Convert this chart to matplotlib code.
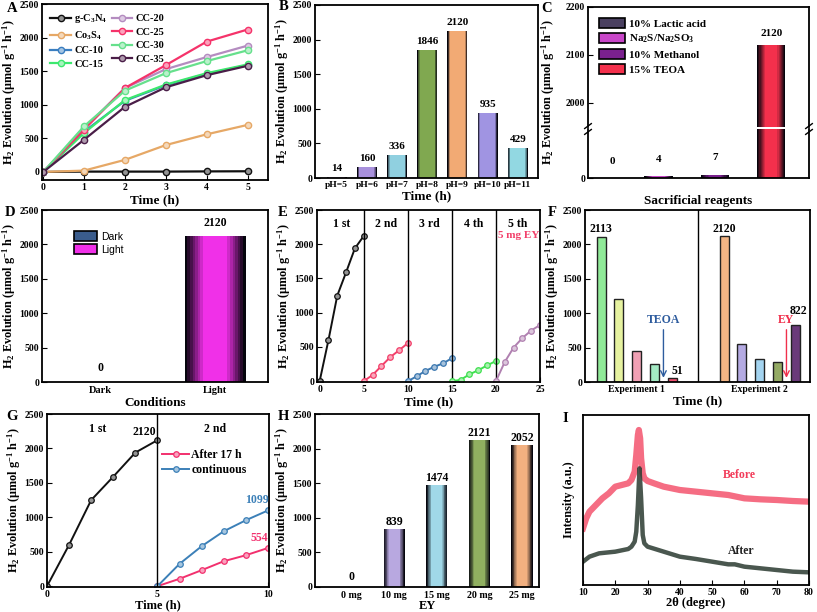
import numpy as np
import matplotlib
matplotlib.use("Agg")
import matplotlib.pyplot as plt
from matplotlib.colors import to_rgb
from matplotlib.patches import Patch

plt.rcParams['font.family'] = 'Liberation Serif'
plt.rcParams['font.weight'] = 'bold'
plt.rcParams['axes.labelweight'] = 'bold'
plt.rcParams['mathtext.fontset'] = 'custom'
plt.rcParams['mathtext.rm'] = 'Liberation Serif:bold'
plt.rcParams['mathtext.it'] = 'Liberation Serif:bold'
plt.rcParams['mathtext.bf'] = 'Liberation Serif:bold'
plt.rcParams['xtick.direction'] = 'in'
plt.rcParams['ytick.direction'] = 'in'
plt.rcParams['xtick.labelsize'] = 7
plt.rcParams['ytick.labelsize'] = 7
plt.rcParams['xtick.major.pad'] = 2.5
plt.rcParams['ytick.major.pad'] = 2
plt.rcParams['axes.linewidth'] = 1.3

# ---- data ----
# A
time_a = [0, 1, 2, 3, 4, 5]
a_labels = ['g-C$_3$N$_4$', 'Co$_3$S$_4$', 'CC-10', 'CC-15', 'CC-20', 'CC-25', 'CC-30', 'CC-35']
a_gcn = [0, 5, 5, 5, 8, 10]
a_co3s4 = [0, 20, 180, 400, 560, 700]
a_cc10 = [0, 600, 1060, 1290, 1460, 1590]
a_cc15 = [0, 580, 1070, 1300, 1470, 1600]
a_cc20 = [0, 650, 1250, 1530, 1710, 1880]
a_cc25 = [0, 630, 1250, 1590, 1940, 2120]
a_cc30 = [0, 680, 1210, 1470, 1650, 1810]
a_cc35 = [0, 480, 970, 1260, 1440, 1580]
a_colors = ['#111111', '#E6A866', '#3A7EC0', '#3CE86E', '#B48CC0', '#F5336A', '#66E08C', '#4A1E48']

# B
ph_labels = ['pH=5', 'pH=6', 'pH=7', 'pH=8', 'pH=9', 'pH=10', 'pH=11']
ph_values = [14, 160, 336, 1846, 2120, 935, 429]
ph_colors = ['#D0B0E0', '#A890DC', '#90D0E0', '#80A850', '#F2AA74', '#A094E2', '#92D8E2']

# C
sac_labels = ['10% Lactic acid', 'Na$_2$S/Na$_2$SO$_3$', '10% Methanol', '15% TEOA']
sac_values = [0, 4, 7, 2120]
sac_colors = ['#4A4060', '#C846C8', '#7A208E', '#F4304C']

# D
cond_labels = ['Dark', 'Light']
cond_values = [0, 2120]
cond_colors = ['#3A5C8C', '#F030E8']

# E
cyc_t = [0, 1, 2, 3, 4, 5]
cyc_vals = [[0, 600, 1250, 1590, 1940, 2120],
            [0, 90, 220, 350, 450, 555],
            [0, 70, 150, 210, 260, 335],
            [0, 20, 100, 160, 230, 295],
            [0, 280, 490, 630, 740, 820]]
cyc_names = ['1 st', '2 nd', '3 rd', '4 th', '5 th']
cyc_colors = ['#111111', '#F2406A', '#3C78B0', '#40E050', '#B080B0']

# F
exp1_vals = [2113, 1210, 450, 260, 51]
exp2_vals = [2120, 555, 340, 295, 822]
exp1_colors = ['#90EA98', '#E6F2A0', '#F0A0B4', '#A4EAC4', '#F05070']
exp2_colors = ['#F2B484', '#B4AAE2', '#A4D4F0', '#94AA64', '#6A3A7A']
exp_labels = ['Experiment 1', 'Experiment 2']

# G
g_t1 = [0, 1, 2, 3, 4, 5]
g_first = [0, 600, 1250, 1590, 1940, 2120]
g_t2 = [5, 6, 7, 8, 9, 10]
g_after = [0, 107, 232, 362, 449, 554]
g_cont = [0, 324, 580, 797, 957, 1099]

# H
ey_labels = ['0 mg', '10 mg', '15 mg', '20 mg', '25 mg']
ey_values = [0, 839, 1474, 2121, 2052]
ey_colors = ['#B8A8E0', '#B8A8E0', '#A0D8E8', '#90B060', '#F2B080']

# I
xrd_b_x = [10, 11, 12, 14, 16, 18, 20, 22, 24, 25, 26, 26.5, 27, 27.3, 27.7, 28, 28.5, 29, 30, 32, 35,
           40, 45, 50, 55, 60, 65, 70, 75, 80]
xrd_b_y = [170, 200, 220, 240, 260, 275, 295, 300, 305, 315, 340, 390, 450, 465, 440, 380, 335, 320, 312, 305, 295,
           285, 280, 275, 270, 260, 257, 255, 252, 250]
xrd_a_x = [10, 12, 15, 20, 24, 25, 26, 26.5, 27, 27.5, 28, 28.5, 29, 30, 35, 40, 45, 50, 55, 57, 60, 65, 70, 75, 80]
xrd_a_y = [70, 85, 95, 100, 108, 115, 130, 160, 240, 350, 260, 150, 125, 115, 100, 85, 78, 70, 62, 62, 55, 50, 45, 40, 38]

YLAB = 'H$_2$ Evolution (μmol g$^{-1}$ h$^{-1}$)'

W, H = 817, 612
fig = plt.figure(figsize=(W / 100, H / 100), dpi=100)


def px_axes(l, t, r, b):
    return fig.add_axes([l / W, 1 - b / H, (r - l) / W, (b - t) / H])


def lighten(c, f=0.55):
    r, g, b = to_rgb(c)
    return (r + (1 - r) * f, g + (1 - g) * f, b + (1 - b) * f)


def grad_bar(ax, x, h, w, color, edge=0.3, n=8):
    base = np.array(to_rgb(color))
    for k in range(n):
        f = k / (n - 1)
        ww = w * (1 - 2 * edge * f)
        col = base * f + np.array([0.02, 0.02, 0.05]) * (1 - f)
        ax.bar(x, h, width=ww, color=col, linewidth=0)


def letter(x, y, s):
    fig.text(x / W, 1 - y / H, s, fontsize=10.5, fontweight='bold', va='center', ha='center')


def ylab(ax):
    ax.set_ylabel(YLAB, fontsize=8.8, labelpad=1)


# ---- A ----
ax = px_axes(42, 4, 268, 180)
for vals, lab, c in zip([a_gcn, a_co3s4, a_cc10, a_cc15, a_cc20, a_cc25, a_cc30, a_cc35], a_labels, a_colors):
    ax.plot(time_a, vals, '-o', color=c, lw=1.6, ms=4.5, mfc=lighten(c), mec=c, mew=1, label=lab)
ax.set_xlim(-0.03, 5.5)
ax.set_ylim(-120, 2500)
ax.set_xticks(range(6))
ax.set_yticks(range(0, 2501, 500))
ax.set_xlabel('Time (h)', fontsize=9.5, labelpad=1)
ylab(ax)
ax.legend(loc='upper left', ncol=2, frameon=False, fontsize=7.5, handlelength=2.0, columnspacing=0.4,
          labelspacing=0.4, handletextpad=0.3, borderaxespad=0.4)
letter(12, 9, 'A')

# ---- B ----
ax = px_axes(315, 5, 538, 178)
xb = np.arange(len(ph_values))
for x, v, c in zip(xb, ph_values, ph_colors):
    grad_bar(ax, x, v, 0.66, c, edge=0.12, n=5)
    ax.text(x, v + 60, str(v), ha='center', va='bottom', fontsize=8)
ax.set_xlim(-0.72, 6.67)
ax.set_ylim(0, 2500)
ax.set_xticks(xb)
ax.set_xticklabels(ph_labels, fontsize=6.8)
ax.tick_params(axis='x', length=0, pad=2)
ax.set_yticks(range(0, 2501, 500))
ax.set_xlabel('Time (h)', fontsize=9.5, labelpad=1)
ylab(ax)
letter(284, 7, 'B')

# ---- C (broken axis) ----
ax_up = px_axes(588, 7, 809, 127)
ax_lo = px_axes(588, 129, 809, 178)
xc = np.arange(len(sac_values))
for a in (ax_up, ax_lo):
    for x, v, c in zip(xc, sac_values, sac_colors):
        if v > 0:
            grad_bar(a, x, v, 0.5, c, edge=0.28)
    a.set_xlim(-0.25, 3.67)
    a.set_xticks([])
ax_up.set_ylim(1949, 2200)
ax_up.set_yticks([2000, 2100, 2200])
ax_lo.set_ylim(0, 100)
ax_lo.set_yticks([0])
ax_up.spines['bottom'].set_visible(False)
ax_lo.spines['top'].set_visible(False)
ax_up.text(3, 2120 + 15, '2120', ha='center', va='bottom', fontsize=8)
for x, v in zip(xc[:3], sac_values[:3]):
    ax_lo.text(x + (0.19 if x == 0 else 0), v + 25, str(v), ha='center', va='bottom', fontsize=8)
for xx in (0, 1):
    for dy in (-0.02, 0.02):
        ax_lo.plot([xx - 0.015, xx + 0.015], [1.0 + dy * 3 - 0.05, 1.0 + dy * 3 + 0.05], color='black',
                   lw=1, transform=ax_lo.transAxes, clip_on=False)
ax_lo.set_xlabel('Sacrificial reagents', fontsize=9.5, labelpad=12)
ax_up.set_ylabel(YLAB, fontsize=8.8, labelpad=1)
ax_up.yaxis.set_label_coords(-0.14, 0.29)
handles = [Patch(facecolor=c, edgecolor='black', lw=1.2) for c in sac_colors]
ax_up.legend(handles, sac_labels, loc='upper left', frameon=False, fontsize=8, handlelength=2.3,
             handleheight=1.0, labelspacing=0.35, handletextpad=0.4, borderaxespad=0.6)
letter(547, 8, 'C')

# ---- D ----
ax = px_axes(42, 210, 268, 382)
xd = np.arange(2)
for x, v, c in zip(xd, cond_values, cond_colors):
    if v > 0:
        grad_bar(ax, x, v, 0.53, c, edge=0.3)
    ax.text(x, v + 110, str(v), ha='center', va='bottom', fontsize=8.5)
ax.set_xlim(-0.51, 1.46)
ax.set_ylim(0, 2500)
ax.set_xticks(xd)
ax.set_xticklabels(cond_labels, fontsize=7.5)
ax.tick_params(axis='x', length=0, pad=3)
ax.set_yticks(range(0, 2501, 500))
ax.set_xlabel('Conditions', fontsize=9.5, labelpad=1)
ylab(ax)
handles = [Patch(facecolor=c, edgecolor='black', lw=1.2) for c in cond_colors]
ax.legend(handles, cond_labels, loc='upper left', bbox_to_anchor=(0.1, 0.93), frameon=False,
          prop={'family': 'Liberation Sans', 'weight': 'normal', 'size': 7.5},
          handlelength=2.2, handleheight=1.1, labelspacing=0.2, handletextpad=0.4)
letter(10, 213, 'D')

# ---- E ----
ax = px_axes(317, 210, 540, 382)
for i, (vals, c, nm) in enumerate(zip(cyc_vals, cyc_colors, cyc_names)):
    tt = [t + 5 * i for t in cyc_t]
    ax.plot(tt, vals, '-o', color=c, lw=1.4, ms=4, mfc=lighten(c), mec=c, mew=0.9)
    ax.text(5 * i + 2.5, 2290, nm, ha='center', va='center', fontsize=8.5)
    if i < 4:
        ax.axvline(5 * (i + 1), color='black', lw=1)
ax.text(22.6, 2130, '5 mg EY', ha='center', va='center', fontsize=8, color='#F2406A')
ax.set_xlim(-0.3, 25)
ax.set_ylim(-12, 2500)
ax.set_xticks(range(0, 26, 5))
ax.set_yticks(range(0, 2501, 500))
ax.set_xlabel('Time (h)', fontsize=9.5, labelpad=1)
ylab(ax)
letter(283, 212, 'E')

# ---- F ----
ax = px_axes(585, 210, 810, 382)
gap = 6.9
x1 = np.arange(5)
x2 = np.arange(5) + gap
for x, v, c in list(zip(x1, exp1_vals, exp1_colors)) + list(zip(x2, exp2_vals, exp2_colors)):
    ax.bar(x, v, width=0.5, color=c, edgecolor='#222222', linewidth=1)
ax.axvline((4 + gap) / 2, color='black', lw=1)
ax.text(x1[0], exp1_vals[0] + 20, str(exp1_vals[0]), ha='center', va='bottom', fontsize=8.5)
ax.text(x2[0], exp2_vals[0] + 20, str(exp2_vals[0]), ha='center', va='bottom', fontsize=8.5)
ax.text(x1[4] - 0.05, exp1_vals[4] + 20, str(exp1_vals[4]), ha='left', va='bottom', fontsize=8.5)
ax.text(x2[4] + 0.15, exp2_vals[4] + 130, str(exp2_vals[4]), ha='center', va='bottom', fontsize=8.5)
ax.annotate('', xy=(3.5, 20), xytext=(3.5, 800),
            arrowprops=dict(arrowstyle='->', color='#2E5C9E', lw=1))
ax.text(3.5, 820, 'TEOA', ha='center', va='bottom', fontsize=8.5, color='#2E5C9E')
ax.annotate('', xy=(x2[3] + 0.5, 20), xytext=(x2[3] + 0.5, 800),
            arrowprops=dict(arrowstyle='->', color='#F0304C', lw=1))
ax.text(x2[3] + 0.45, 820, 'EY', ha='center', va='bottom', fontsize=8.5, color='#F0304C')
ax.set_xlim(-0.9, 11.72)
ax.set_ylim(0, 2500)
ax.set_xticks([2, gap + 2])
ax.set_xticklabels(exp_labels, fontsize=7)
ax.tick_params(axis='x', length=0, pad=2)
ax.set_yticks(range(0, 2501, 500))
ax.set_xlabel('Time (h)', fontsize=9.5, labelpad=1)
ylab(ax)
letter(552, 212, 'F')

# ---- G ----
ax = px_axes(47, 414, 269, 587)
ax.plot(g_t1, g_first, '-o', color='#111111', lw=1.4, ms=4, mfc=lighten('#111111'), mec='#111111', mew=0.9)
ax.plot(g_t2, g_after, '-o', color='#F2306E', lw=1.4, ms=4, mfc=lighten('#F2306E'), mec='#F2306E',
        mew=0.9, label='After 17 h')
ax.plot(g_t2, g_cont, '-o', color='#3C80B8', lw=1.4, ms=4, mfc=lighten('#3C80B8'), mec='#3C80B8',
        mew=0.9, label='continuous')
ax.axvline(5, color='black', lw=1)
ax.text(2.3, 2280, '1 st', ha='center', va='center', fontsize=8.5)
ax.text(7.6, 2280, '2 nd', ha='center', va='center', fontsize=8.5)
ax.text(4.4, 2150, '2120', ha='center', va='bottom', fontsize=8.5)
ax.text(9.5, 1160, '1099', ha='center', va='bottom', fontsize=8.5, color='#3C80B8')
ax.text(9.6, 610, '554', ha='center', va='bottom', fontsize=8.5, color='#F2306E')
ax.legend(loc='upper left', bbox_to_anchor=(0.47, 0.86), frameon=False, fontsize=8.5, handlelength=2.3,
          handletextpad=0.2, labelspacing=0.3)
ax.set_xlim(0, 10.05)
ax.set_ylim(-12, 2500)
ax.set_xticks([0, 5, 10])
ax.set_yticks(range(0, 2501, 500))
ax.set_xlabel('Time (h)', fontsize=9, labelpad=0)
ylab(ax)
letter(12, 416, 'G')

# ---- H ----
ax = px_axes(315, 414, 539, 587)
xh = np.arange(len(ey_values))
for x, v, c in zip(xh, ey_values, ey_colors):
    if v > 0:
        grad_bar(ax, x, v, 0.5, c, edge=0.25)
    ax.text(x, v + 20 if v > 0 else 60, str(v), ha='center', va='bottom', fontsize=8.5)
ax.set_xlim(-0.86, 4.4)
ax.set_ylim(0, 2500)
ax.set_xticks(xh)
ax.set_xticklabels(ey_labels, fontsize=7.2)
ax.tick_params(axis='x', length=0, pad=3)
ax.set_yticks(range(0, 2501, 500))
ax.set_xlabel('EY', fontsize=9, labelpad=0)
ylab(ax)
letter(283, 416, 'H')

# ---- I ----
ax = px_axes(583, 415, 809, 585)
ax.plot(xrd_b_x, xrd_b_y, color='#F23C5A', lw=4.5, alpha=0.75, solid_joinstyle='round')
ax.plot(xrd_a_x, xrd_a_y, color='#2A3A30', lw=3.2, alpha=0.85, solid_joinstyle='round')
ax.text(58.5, 330, 'Before', ha='center', va='center', fontsize=8.5, color='#F23C5A')
ax.text(59, 85, 'After', ha='center', va='bottom', fontsize=8.5, color='#222222')
ax.set_xlim(10, 80)
ax.set_ylim(0, 510)
ax.set_xticks(range(10, 81, 10))
ax.set_yticks([])
ax.set_xlabel('2θ (degree)', fontsize=9, labelpad=0)
ax.set_ylabel('Intensity (a.u.)', fontsize=8.8, labelpad=6)
letter(565, 418, 'I')

fig.savefig('out.png', dpi=100)
